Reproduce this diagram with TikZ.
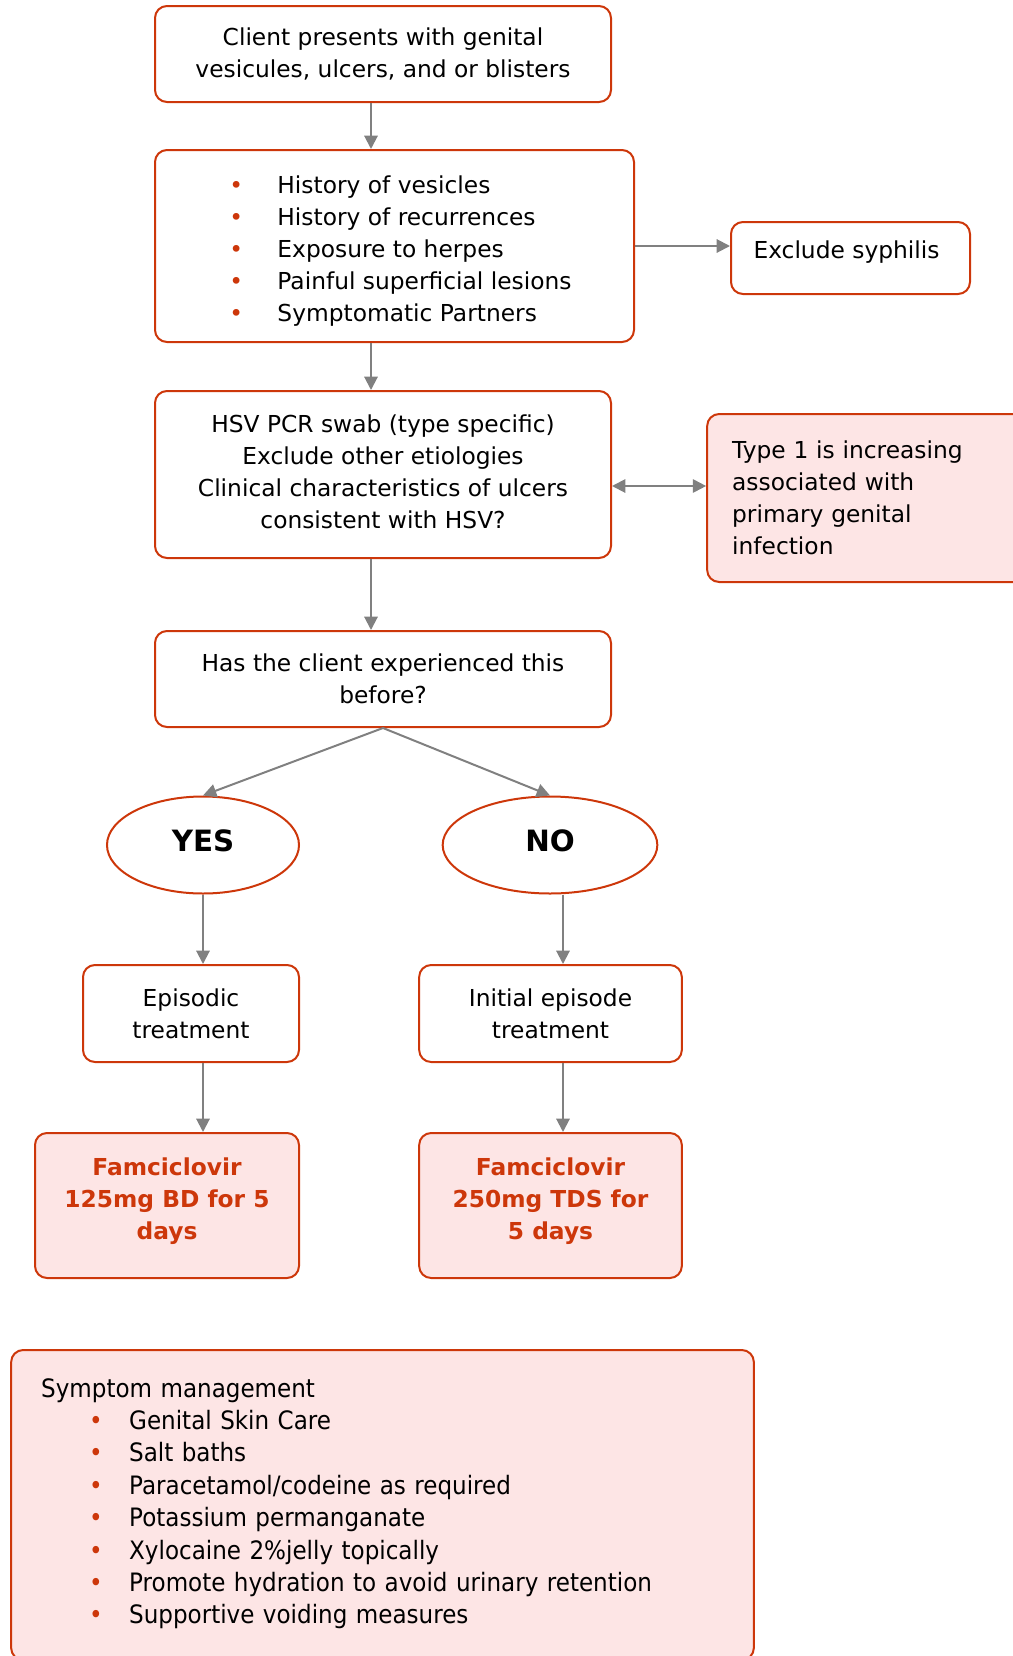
\documentclass[tikz,border=0pt]{standalone}
\usepackage{fontspec}
\setmainfont{DejaVu Sans}
\newfontfamily\narrowfont{DejaVu Sans}[FakeStretch=0.91]
\usetikzlibrary{arrows.meta,shapes.geometric}

\definecolor{hsvred}{RGB}{205,55,10}
\definecolor{hsvpink}{RGB}{253,229,229}
\definecolor{linkgray}{RGB}{128,128,128}

\tikzset{
  flowbox/.style={draw=hsvred, line width=1.5pt, rounded corners=9pt, fill=white,
    align=center, inner sep=0pt, font=\fontsize{17.5pt}{24pt}\selectfont},
  notebox/.style={flowbox, fill=hsvpink},
  dosebox/.style={notebox, text=hsvred, text depth=10pt, font=\fontsize{17.5pt}{24pt}\selectfont\bfseries},
  answer/.style={ellipse, draw=hsvred, line width=1.5pt, inner sep=0pt, text depth=7pt,
    font=\fontsize{22pt}{26pt}\selectfont\bfseries},
  link/.style={draw=linkgray, line width=1.5pt, -{Triangle[length=10pt,width=10pt]}},
  twolink/.style={link, {Triangle[length=10pt,width=10pt]}-{Triangle[length=10pt,width=10pt]}},
}
\newcommand{\bul}[1][32pt]{\makebox[#1][l]{\textcolor{hsvred}{•}}}

\begin{document}
\begin{tikzpicture}[x=0.75pt, y=-0.75pt]
  \useasboundingbox (0,0) rectangle (1013,1656);

  % main column
  \node[flowbox, minimum width=342pt, minimum height=72pt] (present) at (383,54)
    {Client presents with genital\\vesicules, ulcers, and or blisters};
  \node[flowbox, minimum width=359.25pt, minimum height=144pt, align=left] (history) at (394.5,246)
    {\rule{0pt}{21pt}\hspace*{9pt}\bul[36pt]History of vesicles\\ \hspace*{9pt}\bul[36pt]History of recurrences\\
     \hspace*{9pt}\bul[36pt]Exposure to herpes\\ \hspace*{9pt}\bul[36pt]Painful superficial lesions\\
     \hspace*{9pt}\bul[36pt]Symptomatic Partners};
  \node[flowbox, minimum width=179.25pt, minimum height=54pt, text depth=12pt] (syphilis) at (850.5,258)
    {Exclude syphilis\hspace*{6pt}};
  \node[flowbox, minimum width=342pt, minimum height=125.25pt] (swab) at (383,474.5)
    {HSV PCR swab (type specific)\\Exclude other etiologies\\Clinical characteristics of ulcers\\consistent with HSV?\rule[-4pt]{0pt}{0pt}};
  \node[notebox, align=left, text width=204.5pt, inner xsep=18.75pt, minimum height=126pt] (typeone) at (868.5,498)
    {Type 1 is increasing\\associated with\\primary genital\\infection};
  \node[flowbox, minimum width=342pt, minimum height=72pt] (before) at (383,679)
    {Has the client experienced this\\before?};

  % answers
  \node[answer, minimum width=144pt, minimum height=72.75pt] (yes) at (203,845) {YES};
  \node[answer, minimum width=161pt, minimum height=72.75pt] (no) at (550,845) {NO};
  \node[flowbox, minimum width=162pt, minimum height=72.75pt] (episodic) at (191,1013.5)
    {Episodic\\treatment};
  \node[flowbox, minimum width=197pt, minimum height=72.75pt] (initial) at (550.5,1013.5)
    {Initial episode\\treatment};
  \node[dosebox, minimum width=198pt, minimum height=108.75pt] (doseyes) at (167,1205.5)
    {Famciclovir\\125mg BD for 5\\days};
  \node[dosebox, minimum width=197pt, minimum height=108.75pt] (doseno) at (550.5,1205.5)
    {Famciclovir\\250mg TDS for\\5 days};

  \node[notebox, align=left, text width=512pt, inner xsep=22.5pt, minimum height=232.5pt,
    font=\narrowfont\fontsize{19pt}{24.3pt}\selectfont] (care) at (382.5,1505)
    {Symptom management\\
     \hspace*{36pt}\bul[30pt]Genital Skin Care\\
     \hspace*{36pt}\bul[30pt]Salt baths\\
     \hspace*{36pt}\bul[30pt]Paracetamol/codeine as required\\
     \hspace*{36pt}\bul[30pt]Potassium permanganate\\
     \hspace*{36pt}\bul[30pt]Xylocaine 2\%jelly topically\\
     \hspace*{36pt}\bul[30pt]Promote hydration to avoid urinary retention\\
     \hspace*{36pt}\bul[30pt]Supportive voiding measures\rule[-6pt]{0pt}{0pt}};

  % connectors
  \coordinate (mainx) at (371,0);
  \coordinate (leftx) at (203,0);
  \coordinate (rightx) at (563,0);
  \coordinate (midy) at (0,486);
  \draw[link] (present.south -| mainx) -- (history.north -| mainx);
  \draw[link] (history.south -| mainx) -- (swab.north -| mainx);
  \draw[link] (swab.south -| mainx) -- (before.north -| mainx);
  \draw[link] (history.east) -- (history.east -| syphilis.west);
  \draw[twolink] (swab.east |- midy) -- (typeone.west |- midy);
  \draw[link] (before.south) -- (yes.north);
  \draw[link] (before.south) -- (no.north);
  \draw[link] (yes.south -| leftx) -- (episodic.north -| leftx);
  \draw[link] (no.south -| rightx) -- (initial.north -| rightx);
  \draw[link] (episodic.south -| leftx) -- (doseyes.north -| leftx);
  \draw[link] (initial.south -| rightx) -- (doseno.north -| rightx);
\end{tikzpicture}
\end{document}
